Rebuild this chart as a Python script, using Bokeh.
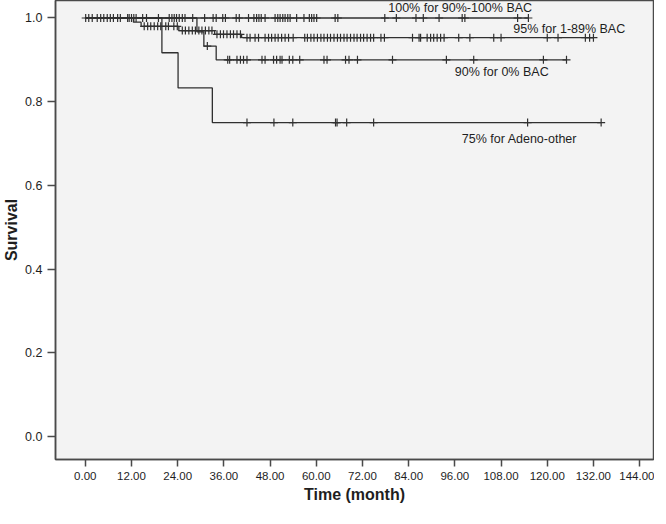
import numpy as np
from bokeh.plotting import figure
from bokeh.models import Range1d, FixedTicker, NumeralTickFormatter
from bokeh.embed import file_html
from bokeh.resources import INLINE
from bokeh.core.properties import value

# ---------------- data ----------------
x_ticks = [0, 12, 24, 36, 48, 60, 72, 84, 96, 108, 120, 132, 144]
y_ticks = [0.0, 0.2, 0.4, 0.6, 0.8, 1.0]

# 90%-100% BAC
bac100_event_times = []
bac100_event_surv = []
bac100_censor = [0.1, 0.9, 1.8, 3.1, 4.0, 4.8, 5.7, 6.5, 7.3, 8.4, 9.1, 11.0, 11.4,
                 12.0, 12.6, 13.2, 14.9, 15.9, 19.0, 21.8, 22.5, 23.1, 23.7, 24.4,
                 25.2, 25.9, 27.9, 31.0, 33.2, 34.0, 35.7, 36.4, 39.2, 40.0, 42.4,
                 43.8, 44.5, 45.1, 45.7, 46.7, 49.3, 50.0, 50.6, 51.3, 51.9, 52.6,
                 53.2, 54.9, 56.8, 58.2, 58.8, 59.4, 60.1, 64.9, 65.6, 77.8, 80.8,
                 85.9, 87.8, 91.9, 97.9, 98.6, 112.3, 115.1]

# 1-89% BAC
bac1_89_event_times = [12.5, 14.5, 24.3, 33.6, 40.6]
bac1_89_event_surv = [0.990, 0.980, 0.970, 0.961, 0.953]
bac1_89_censor = [15.3, 16.2, 17.0, 17.9, 18.8, 19.6, 20.9, 21.6, 23.0, 23.9,
                  25.2, 26.0, 26.9, 27.8, 28.6, 29.5, 30.3, 31.2, 32.1, 32.9,
                  34.2, 35.1, 35.9, 36.8, 37.7, 38.5, 39.4, 40.3,
                  42.0, 42.8, 44.1, 45.0, 46.7, 47.6, 48.4, 49.3, 50.1, 51.0, 51.9,
                  52.8, 54.0, 57.0, 57.7, 58.6, 59.4, 60.3, 61.2, 62.0, 62.9, 63.7,
                  64.6, 65.5, 66.3, 67.2, 68.0, 68.9, 69.8, 70.6, 71.5, 72.3, 73.2,
                  74.1, 74.9, 76.8, 77.7, 85.0, 86.7, 87.1, 88.8, 89.7, 90.5, 91.4,
                  92.3, 93.2, 97.0, 99.9, 106.1, 108.0, 120.0, 122.8, 129.9, 131.0,
                  132.0]

# 0% BAC
bac0_event_times = [29.0, 30.8, 34.0]
bac0_event_surv = [0.967, 0.933, 0.900]
bac0_censor = [31.7, 37.0, 37.5, 39.4, 40.3, 41.1, 42.0, 45.9, 46.7, 48.9, 49.7,
               50.6, 51.1, 53.0, 53.9, 55.7, 62.0, 62.8, 67.6, 68.5, 70.7, 79.8,
               93.8, 100.9, 119.0, 125.0]

# Adeno-other
adeno_event_times = [19.9, 24.1, 33.0]
adeno_event_surv = [0.917, 0.833, 0.750]
adeno_censor = [42.0, 49.0, 53.9, 65.0, 65.4, 67.9, 74.9, 114.9, 134.0]

curve_labels = ["100% for 90%-100% BAC", "95% for 1-89% BAC",
                "90% for 0% BAC", "75% for Adeno-other"]

groups = [
    (bac100_event_times, bac100_event_surv, bac100_censor),
    (bac1_89_event_times, bac1_89_event_surv, bac1_89_censor),
    (bac0_event_times, bac0_event_surv, bac0_censor),
    (adeno_event_times, adeno_event_surv, adeno_censor),
]

# ---------------- figure ----------------
FONT = "Liberation Sans"
INK = "#4a4a4a"
TXT = "#1e1e1e"

p = figure(width=654, height=508, output_backend="svg", toolbar_location=None,
           x_range=Range1d(-7.74, 147.6), y_range=Range1d(-0.055, 1.0418),
           min_border_left=51, min_border_right=1, min_border_top=0,
           min_border_bottom=49)
p.background_fill_color = "#f3f3f3"
p.border_fill_color = "white"
p.outline_line_color = INK
p.outline_line_width = 1.5
p.xgrid.visible = False
p.ygrid.visible = False

for ax in (p.xaxis[0], p.yaxis[0]):
    ax.axis_line_color = INK
    ax.axis_line_width = 1.5
    ax.major_tick_line_color = INK
    ax.major_tick_line_width = 1.5
    ax.major_tick_in = 0
    ax.minor_tick_line_color = None
    ax.major_label_text_font = FONT
    ax.major_label_text_color = TXT
    ax.axis_label_text_font = FONT
    ax.axis_label_text_font_style = "bold"
    ax.axis_label_text_color = TXT

p.xaxis.ticker = FixedTicker(ticks=x_ticks)
p.xaxis.formatter = NumeralTickFormatter(format="0.00")
p.xaxis.major_tick_out = 7
p.xaxis.major_label_standoff = 5
p.xaxis.major_label_text_font_size = "11.5px"
p.xaxis.axis_label = "Time (month)"
p.xaxis.axis_label_text_font_size = "16px"
p.xaxis.axis_label_standoff = 3

p.yaxis.ticker = FixedTicker(ticks=y_ticks)
p.yaxis.formatter = NumeralTickFormatter(format="0.0")
p.yaxis.major_tick_out = 8
p.yaxis.major_label_standoff = 5
p.yaxis.major_label_text_font_size = "12.5px"
p.yaxis.axis_label = "Survival"
p.yaxis.axis_label_text_font_size = "16px"
p.yaxis.axis_label_standoff = 2


def surv_at(times, surv, t):
    s = 1.0
    for et, es in zip(times, surv):
        if et <= t:
            s = es
    return s


for times, surv, cens in groups:
    end = max(cens)
    xs = [0.0] + list(times) + [end]
    ys = [1.0] + list(surv) + [surv[-1] if surv else 1.0]
    p.step(xs, ys, mode="after", line_color="#303030", line_width=1.3)
    cy = [surv_at(times, surv, c) for c in cens]
    p.scatter(cens, cy, marker="cross", size=8, line_color="#303030",
              line_width=1.2)

label_x = [78.7, 111.2, 96.0, 97.8]
label_y = [1.024, 0.973, 0.870, 0.7097]
p.text(label_x, label_y, text=curve_labels, text_font=value(FONT),
       text_font_size="12.5px", text_color=TXT, text_align="left",
       text_baseline="middle")

open("out.html", "w").write(file_html(p, INLINE))
